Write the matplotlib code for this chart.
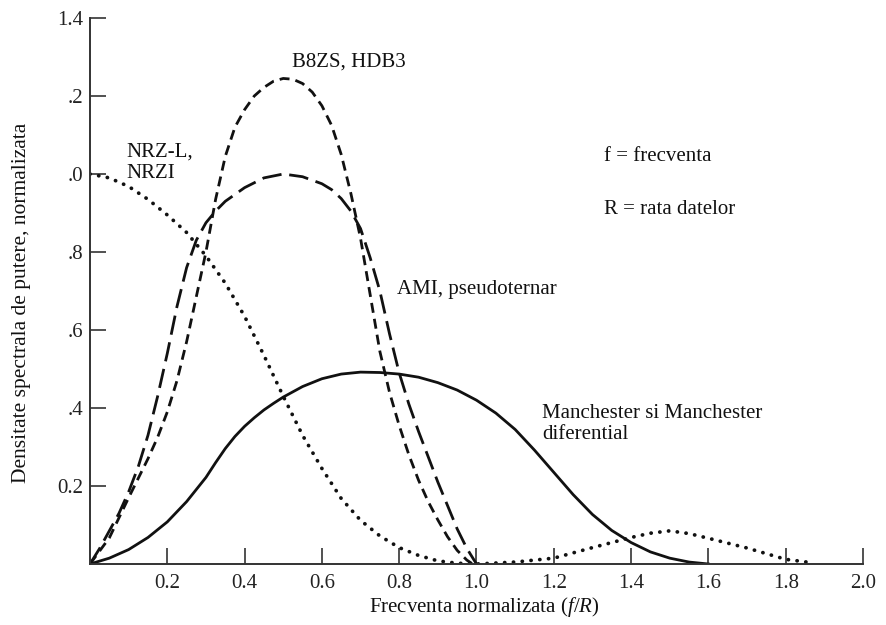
import matplotlib
matplotlib.use("Agg")
import matplotlib.pyplot as plt

plt.rcParams['font.family'] = ['Liberation Serif', 'DejaVu Serif']
plt.rcParams['mathtext.fontset'] = 'custom'
plt.rcParams['mathtext.rm'] = 'Liberation Serif'
plt.rcParams['mathtext.it'] = 'Liberation Serif:italic'

# ---- data ----
freq_nrz = [0, 0.05, 0.1, 0.15, 0.2, 0.25, 0.3, 0.35, 0.4, 0.45, 0.5, 0.55, 0.6,
            0.65, 0.7, 0.75, 0.8, 0.85, 0.9, 0.95, 1.0, 1.1, 1.2, 1.3, 1.4, 1.45,
            1.5, 1.55, 1.6, 1.7, 1.8, 1.87]
psd_nrz = [1.0, 0.99, 0.968, 0.935, 0.895, 0.85, 0.79, 0.72, 0.635, 0.535, 0.43,
           0.33, 0.245, 0.168, 0.112, 0.072, 0.042, 0.022, 0.008, 0.002, 0.0, 0.005,
           0.015, 0.042, 0.068, 0.079, 0.085, 0.078, 0.066, 0.041, 0.012, 0.003]

freq_b8zs = [0, 0.05, 0.1, 0.15, 0.175, 0.2, 0.225, 0.25, 0.275, 0.3, 0.325, 0.35,
             0.375, 0.4, 0.425, 0.45, 0.475, 0.5, 0.525, 0.55, 0.575, 0.6, 0.625,
             0.65, 0.675, 0.7, 0.725, 0.75, 0.775, 0.8, 0.825, 0.85, 0.875, 0.9,
             0.925, 0.95, 0.975, 0.99]
psd_b8zs = [0, 0.067, 0.17, 0.27, 0.325, 0.39, 0.47, 0.57, 0.685, 0.80, 0.935, 1.045,
            1.12, 1.165, 1.2, 1.222, 1.238, 1.245, 1.243, 1.232, 1.21, 1.175, 1.125,
            1.05, 0.95, 0.835, 0.69, 0.545, 0.44, 0.355, 0.28, 0.215, 0.16, 0.113,
            0.07, 0.035, 0.01, 0.0]

freq_ami = [0, 0.025, 0.05, 0.075, 0.1, 0.125, 0.15, 0.175, 0.2, 0.225, 0.25, 0.275,
            0.3, 0.325, 0.35, 0.4, 0.45, 0.5, 0.55, 0.6, 0.625, 0.65, 0.675, 0.7,
            0.725, 0.75, 0.775, 0.8, 0.825, 0.85, 0.875, 0.9, 0.925, 0.95, 0.975, 1.0]
psd_ami = [0, 0.04, 0.085, 0.13, 0.185, 0.25, 0.33, 0.43, 0.54, 0.66, 0.76, 0.83,
           0.875, 0.905, 0.93, 0.965, 0.99, 1.0, 0.993, 0.975, 0.96, 0.937, 0.905,
           0.86, 0.785, 0.70, 0.59, 0.49, 0.41, 0.34, 0.275, 0.21, 0.15, 0.09, 0.04,
           0.0]

freq_man = [0, 0.05, 0.1, 0.15, 0.2, 0.25, 0.3, 0.325, 0.35, 0.375, 0.4, 0.425, 0.45,
            0.475, 0.5, 0.55, 0.6, 0.65, 0.7, 0.75, 0.8, 0.85, 0.9, 0.95, 1.0, 1.05,
            1.1, 1.15, 1.2, 1.25, 1.3, 1.35, 1.4, 1.45, 1.5, 1.55, 1.6]
psd_man = [0, 0.015, 0.037, 0.068, 0.108, 0.16, 0.222, 0.26, 0.296, 0.327, 0.353,
           0.375, 0.395, 0.412, 0.428, 0.455, 0.475, 0.487, 0.492, 0.491, 0.487,
           0.479, 0.465, 0.446, 0.42, 0.387, 0.345, 0.292, 0.235, 0.178, 0.127,
           0.086, 0.055, 0.031, 0.015, 0.005, 0.0]

x_ticks = [0.2, 0.4, 0.6, 0.8, 1.0, 1.2, 1.4, 1.6, 1.8, 2.0]
x_tick_labels = ['0.2', '0.4', '0.6', '0.8', '1.0', '1.2', '1.4', '1.6', '1.8', '2.0']
y_ticks = [0.2, 0.4, 0.6, 0.8, 1.0, 1.2, 1.4]
y_tick_labels = ['0.2', '.4', '.6', '.8', '.0', '.2', '1.4']

# ---- figure ----
fig = plt.figure(figsize=(8.87, 6.25), dpi=100)
ax = fig.add_axes([90/887, 61/625, 773/887, 546/625])

lw = 2.0
ax.plot(freq_nrz, psd_nrz, color='#111111', lw=2.7, linestyle=(0, (0.05, 2.3)),
        dash_capstyle='round', solid_capstyle='round')
ax.plot(freq_b8zs, psd_b8zs, color='#111111', lw=lw, linestyle=(0, (3.6, 2.2)))
ax.plot(freq_ami, psd_ami, color='#111111', lw=lw, linestyle=(0, (7.0, 2.8)))
ax.plot(freq_man, psd_man, color='#111111', lw=lw, linestyle='-')

ax.set_xlim(0, 2.0)
ax.set_ylim(0, 1.4)
for s in ['top', 'right']:
    ax.spines[s].set_visible(False)
for s in ['left', 'bottom']:
    ax.spines[s].set_linewidth(1.4)
    ax.spines[s].set_color('#333333')

ax.set_xticks(x_ticks)
ax.set_xticklabels(x_tick_labels)
ax.set_yticks(y_ticks)
ax.set_yticklabels(y_tick_labels)
ax.tick_params(direction='in', length=11.5, width=1.2, color='#333333',
               labelsize=15, labelcolor='#222222')
ax.tick_params(axis='x', pad=7)
ax.tick_params(axis='y', pad=5)

ax.set_xlabel('Frecventa normalizata ($f/R$)', fontsize=15, color='#111111')
ax.xaxis.set_label_coords(0.51, -0.079)
ax.xaxis.label.set_va('center')
ax.set_ylabel('Densitate spectrala de putere, normalizata', fontsize=15.5,
              color='#111111')
ax.yaxis.set_label_coords(-0.089, 0.478)
ax.yaxis.label.set_va('center')

tk = dict(fontsize=15, color='#111111', ha='left', va='center')
ax.text(0.523, 1.287, 'B8ZS, HDB3', **tk)
ax.text(0.093, 1.028, 'NRZ-L,\nNRZI', linespacing=1.2, **tk)
ax.text(1.330, 1.044, 'f = frecventa', **tk)
ax.text(1.330, 0.910, 'R = rata datelor', **tk)
ax.text(0.794, 0.703, 'AMI, pseudoternar', **tk)
ax.text(1.169, 0.359, 'Manchester si Manchester\ndiferential', linespacing=1.2, **tk)

fig.savefig('out.png', dpi=100)
